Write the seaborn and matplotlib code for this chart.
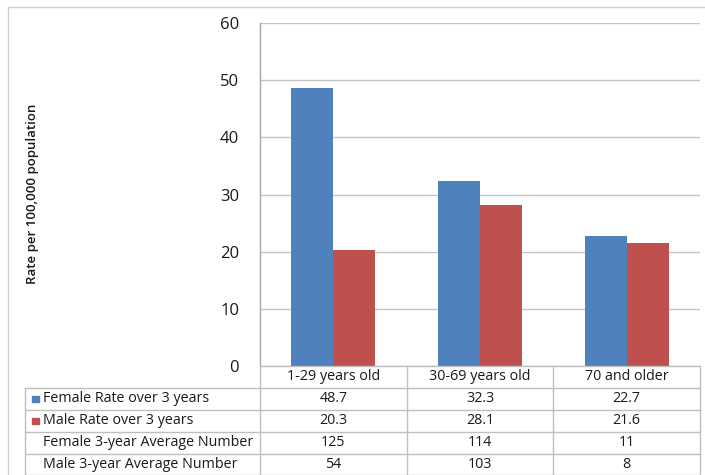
import matplotlib
matplotlib.use("Agg")
import matplotlib.pyplot as plt
import seaborn as sns
import pandas as pd
from matplotlib.lines import Line2D
from matplotlib.patches import Rectangle

categories = ["1-29 years old", "30-69 years old", "70 and older"]
female_rate = [48.7, 32.3, 22.7]
male_rate = [20.3, 28.1, 21.6]
female_avg = [125, 114, 11]
male_avg = [54, 103, 8]
series_names = ["Female Rate over 3 years", "Male Rate over 3 years"]
extra_rows = ["Female 3-year Average Number", "Male 3-year Average Number"]
yticks = [0, 10, 20, 30, 40, 50, 60]
ylabel = "Rate per 100,000 population"

colors = ["#4F81BD", "#C0504D"]

sns.set_theme(style="white")
plt.rcParams["font.family"] = ["Open Sans", "DejaVu Sans"]

W, H = 705, 475
fig = plt.figure(figsize=(W / 100, H / 100), dpi=100)

def fx(px):
    return px / W

def fy(py):
    return 1 - py / H

L, R, T, B = 260, 700, 23, 366
ax = fig.add_axes([fx(L), fy(B), fx(R - L), (B - T) / H])

df = pd.DataFrame({
    "cat": categories * 2,
    "val": female_rate + male_rate,
    "series": [series_names[0]] * 3 + [series_names[1]] * 3,
})
sns.barplot(data=df, x="cat", y="val", hue="series", order=categories,
            hue_order=series_names, palette=colors, width=1 / 1.75,
            saturation=1, ax=ax, legend=False, edgecolor="none")

ax.set_xlim(-0.5, 2.5)
ax.set_ylim(0, 60)
ax.set_yticks(yticks)
ax.set_yticklabels([str(t) for t in yticks], fontsize=12, color="#1A1A1A")
ax.tick_params(axis="y", length=0, pad=15)
ax.set_xticks([])
ax.set_xlabel("")
ax.set_ylabel("")
ax.yaxis.grid(True, color="#C4C4C4", linewidth=1)
ax.set_axisbelow(True)
for s in ["right", "top", "bottom"]:
    ax.spines[s].set_visible(False)
ax.spines["left"].set_color("#A6A6A6")
ax.spines["left"].set_linewidth(1)

fig.text(fx(33), fy(194), ylabel, rotation=90, ha="center", va="center",
         fontsize=9.5, fontweight="semibold", color="#1A1A1A")

# outer frame
fig.add_artist(Line2D([fx(8), fx(8)], [fy(7), fy(480)], color="#D0D0D0", lw=1))
fig.add_artist(Line2D([fx(8), fx(710)], [fy(7), fy(7)], color="#D0D0D0", lw=1))

# data table
row_h = 22
col_w = (R - L) / 3
col_edges = [L + i * col_w for i in range(4)]
tl = "#BFBFBF"
fig.add_artist(Line2D([fx(L), fx(R)], [fy(B), fy(B)], color=tl, lw=1))
hy = [B + row_h * (i + 1) for i in range(5)]
for y in hy[:-1]:
    fig.add_artist(Line2D([fx(25), fx(R)], [fy(y), fy(y)], color=tl, lw=1))
fig.add_artist(Line2D([fx(25), fx(R)], [fy(474.5), fy(474.5)], color=tl, lw=1))
for x in col_edges:
    fig.add_artist(Line2D([fx(x), fx(x)], [fy(B), fy(476)], color=tl, lw=1))
fig.add_artist(Line2D([fx(25), fx(25)], [fy(hy[0]), fy(476)], color=tl, lw=1))

tc = "#1A1A1A"
fs = 10.3
for j, c in enumerate(categories):
    fig.text(fx(L + col_w * (j + 0.5)), fy(B + row_h / 2), c, ha="center",
             va="center", fontsize=fs, color=tc)

row_labels = series_names + extra_rows
row_values = [female_rate, male_rate, female_avg, male_avg]
for i, (lab, vals) in enumerate(zip(row_labels, row_values)):
    yc = B + row_h * (i + 1.5)
    if i < 2:
        fig.add_artist(Rectangle((fx(32), fy(yc + 3)), fx(6.5), 6.5 / H,
                                 color=colors[i], transform=fig.transFigure))
    fig.text(fx(43), fy(yc), lab, ha="left", va="center", fontsize=fs, color=tc)
    for j, v in enumerate(vals):
        fig.text(fx(L + col_w * (j + 0.5)), fy(yc), str(v), ha="center",
                 va="center", fontsize=fs, color=tc)

fig.savefig("out.png", dpi=100, facecolor="white")
